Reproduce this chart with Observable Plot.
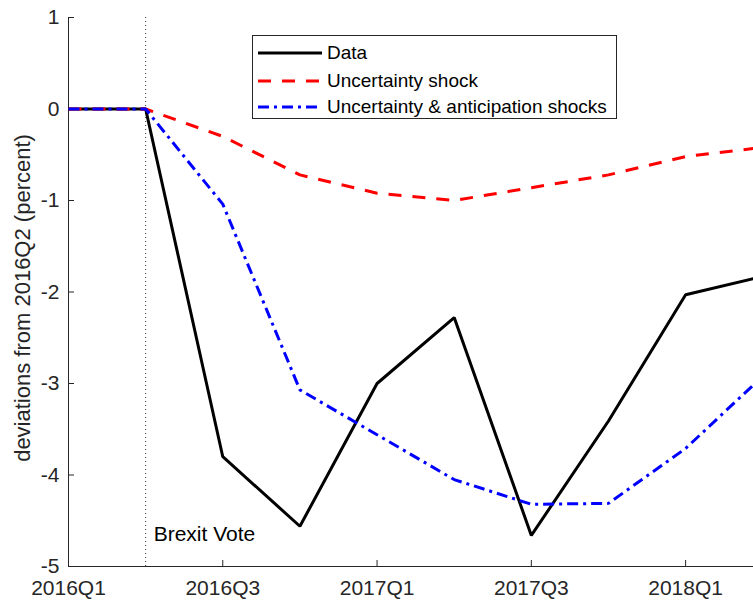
<!DOCTYPE html>
<html><head><meta charset="utf-8">
<script src="https://cdn.jsdelivr.net/npm/d3@7"></script>
<script src="https://cdn.jsdelivr.net/npm/@observablehq/plot@0.6"></script>
<style>
body{margin:0;background:#fff;font-family:"Liberation Sans",Arial,sans-serif;}
#wrap{position:relative;width:753px;height:600px;overflow:hidden;}
#legend{position:absolute;left:252px;top:35px;width:363px;height:82px;border:1px solid #262626;background:#fff;font-size:19px;color:#000;}
#legend .row{position:absolute;left:5px;height:22px;display:flex;align-items:center;white-space:nowrap;}
#legend svg{margin-right:5px;}
</style></head><body><div id="wrap"></div>
<script>
const quarters = ["2016Q1","2016Q2","2016Q3","2016Q4","2017Q1","2017Q2","2017Q3","2017Q4","2018Q1","2018Q2"];
const dataValues = [0, 0, -3.80, -4.56, -3.00, -2.28, -4.66, -3.41, -2.03, -1.83];
const uncertaintyValues = [0, 0, -0.30, -0.72, -0.92, -1.00, -0.86, -0.72, -0.52, -0.42];
const anticipationValues = [0, 0, -1.04, -3.07, -3.56, -4.05, -4.32, -4.31, -3.71, -2.92];
const seriesNames = ["Data", "Uncertainty shock", "Uncertainty & anticipation shocks"];
const xTickIndex = [0, 2, 4, 6, 8];
const yTicks = [1, 0, -1, -2, -3, -4, -5];
const voteQuarter = "2016Q2";
const voteLabel = "Brexit Vote";
const yLabel = "deviations from 2016Q2 (percent)";

const styles = [
  {stroke: "#000000", dash: null},
  {stroke: "#ff0000", dash: "13,11"},
  {stroke: "#0000ff", dash: "11,5,3,5"}
];
const allSeries = [dataValues, uncertaintyValues, anticipationValues];
const rows = allSeries.flatMap((vals, s) => vals.map((v, i) => ({series: seriesNames[s], q: i, v})));
const voteIdx = quarters.indexOf(voteQuarter);

const chart = Plot.plot({
  width: 753, height: 600,
  marginLeft: 68, marginRight: 0, marginTop: 17, marginBottom: 34,
  style: {fontFamily: "'Liberation Sans', Arial, sans-serif", fontSize: "21px", color: "#262626", background: "white"},
  x: {domain: [0, 8.88]},
  y: {domain: [-5, 1]},
  marks: [
    Plot.ruleX([voteIdx], {stroke: "#333", strokeDasharray: "1,3", strokeWidth: 1}),
    Plot.axisX({ticks: xTickIndex, tickFormat: i => quarters[i], tickSize: -6, tickPadding: 20, label: null, stroke: "#262626", fill: "#262626"}),
    Plot.axisY({ticks: yTicks, tickFormat: d => String(d), tickSize: -6, tickPadding: 15, label: null, stroke: "#262626", fill: "#262626"}),
    Plot.ruleX([0], {stroke: "#262626", strokeWidth: 1}),
    Plot.ruleY([-5], {stroke: "#262626", strokeWidth: 1}),
    ...seriesNames.map((name, s) => Plot.line(rows.filter(d => d.series === name), {
      x: "q", y: "v", stroke: styles[s].stroke, strokeWidth: 3,
      strokeDasharray: styles[s].dash, strokeLinejoin: "miter", strokeLinecap: "butt", clip: true
    })),
    Plot.text([{q: voteIdx, label: voteLabel}], {x: "q", text: "label", frameAnchor: "bottom", dx: 8, dy: -26, textAnchor: "start", fontSize: 21, fill: "#000"}),
    Plot.text([yLabel], {frameAnchor: "left", textAnchor: "middle", rotate: -90, dx: -46, dy: 6, fontSize: 22, fill: "#262626"})
  ]
});
const wrap = document.getElementById("wrap");
wrap.appendChild(chart);

const legend = document.createElement("div");
legend.id = "legend";
const rowTops = [6, 34, 60];
seriesNames.forEach((name, s) => {
  const r = document.createElement("div");
  r.className = "row";
  r.style.top = rowTops[s] + "px";
  r.innerHTML = `<svg width="64" height="6"><line x1="0" y1="3" x2="64" y2="3" stroke="${styles[s].stroke}" stroke-width="3" ${styles[s].dash ? `stroke-dasharray="${styles[s].dash}"` : ""}/></svg><span></span>`;
  r.querySelector("span").textContent = name;
  legend.appendChild(r);
});
wrap.appendChild(legend);
</script>
</body></html>
